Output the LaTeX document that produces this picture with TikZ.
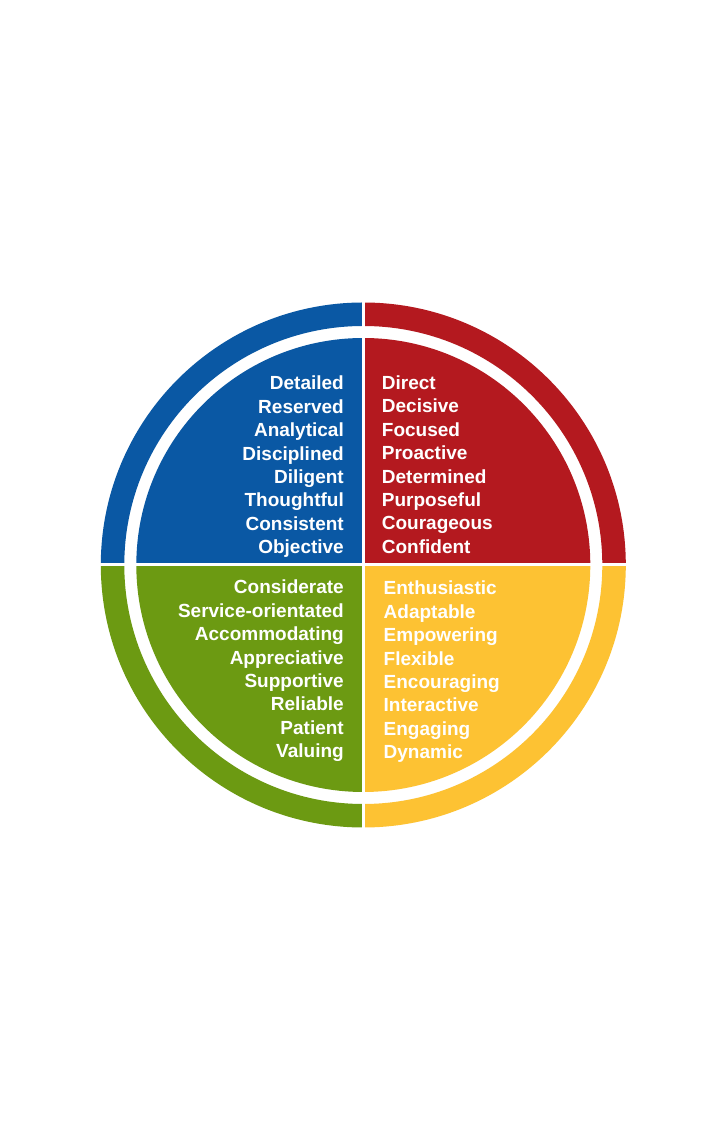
\documentclass[tikz,border=0pt]{standalone}
\usepackage{fontspec}
\setmainfont{Liberation Sans}
\definecolor{qblue}{RGB}{10,88,164}
\definecolor{qred}{RGB}{180,25,31}
\definecolor{qgreen}{RGB}{108,154,18}
\definecolor{qyellow}{RGB}{253,194,51}
\tikzset{
  word/.style={text=white,inner sep=0pt,font=\fontsize{19}{23}\selectfont\bfseries},
  wordL/.style={word,anchor=base east},
  wordR/.style={word,anchor=base west},
  gapline/.style={white,line width=3pt}
}
\begin{document}
\begin{tikzpicture}[x=1pt,y=1pt]
\useasboundingbox (0,0) rectangle (726,1135);
\fill[white] (0,0) rectangle (726,1135);
\coordinate (c) at (363.3,570);
\def\Rd{227}
\def\Ri{239}
\def\Ro{262.5}
% quadrants: start angle, end angle, colour
\foreach \a/\b/\col in {90/180/qblue,0/90/qred,180/270/qgreen,270/360/qyellow}{
  \fill[\col] (c) -- ([shift={(\a:\Rd)}]c) arc[start angle=\a,end angle=\b,radius=\Rd] -- cycle;
  \fill[\col] ([shift={(\a:\Ro)}]c) arc[start angle=\a,end angle=\b,radius=\Ro]
     -- ([shift={(\b:\Ri)}]c) arc[start angle=\b,end angle=\a,radius=\Ri] -- cycle;
}
\coordinate (top) at ([yshift=270]c);
\coordinate (bot) at ([yshift=-270]c);
\coordinate (lft) at ([xshift=-270]c);
\coordinate (rgt) at ([xshift=270]c);
\draw[gapline] (top) -- (bot);
\draw[gapline] (lft) -- (rgt);
% words
\foreach \w [count=\i from 0] in {Detailed,Reserved,Analytical,Disciplined,Diligent,Thoughtful,Consistent,Objective}
  \node[wordL] (b\i) at (344,1135-390-23.4*\i) {\w};
\foreach \w [count=\i from 0] in {Direct,Decisive,Focused,Proactive,Determined,Purposeful,Courageous,Confident}
  \node[wordR] (r\i) at (381.7,1135-389.5-23.4*\i) {\w};
\foreach \w [count=\i from 0] in {Considerate,Service-orientated,Accommodating,Appreciative,Supportive,Reliable,Patient,Valuing}
  \node[wordL] (g\i) at (344,1135-594-23.4*\i) {\w};
\foreach \w [count=\i from 0] in {Enthusiastic,Adaptable,Empowering,Flexible,Encouraging,Interactive,Engaging,Dynamic}
  \node[wordR] (y\i) at (383.5,1135-595-23.4*\i) {\w};
\end{tikzpicture}
\end{document}
